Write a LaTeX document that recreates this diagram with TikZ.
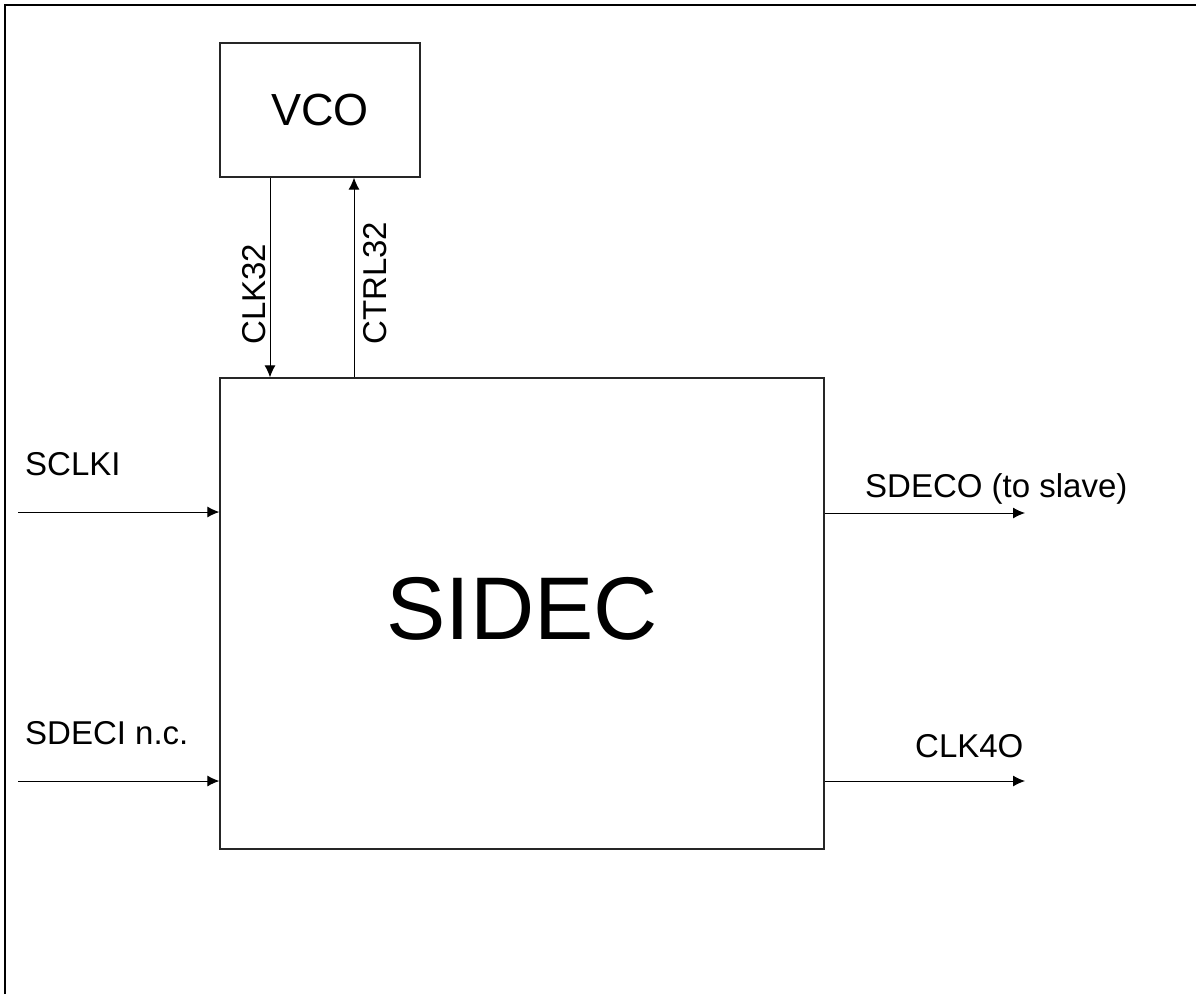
\documentclass[tikz,border=0pt]{standalone}
\usepackage{fontspec}
\setmainfont{Liberation Sans}
\usetikzlibrary{arrows.meta}
\tikzset{
  blockbox/.style={draw=black!85, line width=1.3pt, inner sep=0pt, rectangle},
  sigarrow/.style={draw=black, line width=1pt, -{Latex[length=12pt,width=11pt]}},
  siglabel/.style={inner sep=0pt, font=\fontsize{33}{38}\selectfont},
  frameline/.style={draw=black, line width=2pt}
}
\begin{document}
\begin{tikzpicture}[x=1pt,y=-1pt]
\useasboundingbox (0,0) rectangle (1196,994);
\draw[frameline] (5,994) -- (5,5) -- (1196,5);
% blocks
\node[blockbox, minimum width=200pt, minimum height=134pt, font=\fontsize{45}{50}\selectfont] (vco) at (320,110) {VCO};
\node[blockbox, minimum width=604pt, minimum height=471pt] (sidec) at (522,613.5) {};
\node[inner sep=0pt, font=\fontsize{89}{100}\selectfont] (sidectext) at (522,609) {SIDEC};
% free ends
\coordinate (sclkiin) at (18,512);
\coordinate (sdeciin) at (18,781);
\coordinate (sdecoout) at (1025,513);
\coordinate (clkfout) at (1025,781);
\coordinate (clkx) at (270,0);
\coordinate (ctrlx) at (354,0);
% connectors
\draw[sigarrow] (sclkiin) -- (sclkiin -| sidec.west);
\draw[sigarrow] (sdeciin) -- (sdeciin -| sidec.west);
\draw[sigarrow] (sdecoout -| sidec.east) -- (sdecoout);
\draw[sigarrow] (clkfout -| sidec.east) -- (clkfout);
\draw[sigarrow] (clkx |- vco.south) -- (clkx |- sidec.north);
\draw[sigarrow] (ctrlx |- sidec.north) -- (ctrlx |- vco.south);
% labels
\node[siglabel, anchor=base west] (lsclki) at (25,475) {SCLKI};
\node[siglabel, anchor=base west] (lsdeci) at (25,744) {SDECI n.c.};
\node[siglabel, anchor=base west] (lsdeco) at (865,497) {SDECO (to slave)};
\node[siglabel, anchor=base west] (lclkf) at (915,757) {CLK4O};
\node[siglabel, anchor=base west, rotate=90] (lclk) at (265.5,345) {CLK32};
\node[siglabel, anchor=base west, rotate=90] (lctrl) at (386.5,345) {CTRL32};
\end{tikzpicture}
\end{document}
